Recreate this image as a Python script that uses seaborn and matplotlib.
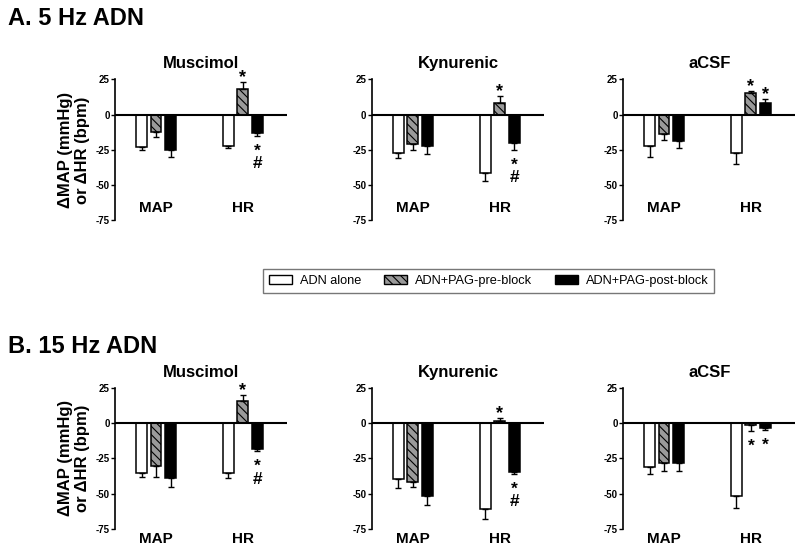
import pandas as pd
import numpy as np
import matplotlib
matplotlib.use('Agg')
import matplotlib.pyplot as plt
import seaborn as sns
from matplotlib.patches import Patch

conditions = ['ADN alone', 'ADN+PAG-pre-block', 'ADN+PAG-post-block']
drugs = ['Muscimol', 'Kynurenic', 'aCSF']
params = ['MAP', 'HR']

# mean change, one row per drug, columns = conditions
hz5_map = [[-23, -12, -25], [-27, -21, -22], [-22, -14, -19]]
hz5_map_sem = [[2, 4, 5], [4, 4, 6], [8, 4, 5]]
hz5_hr = [[-22, 18, -13], [-41.5, 8.5, -20], [-27, 15.5, 8.5]]
hz5_hr_sem = [[1.5, 5, 2], [5.5, 4.5, 5], [8, 1.5, 2.5]]

hz15_map = [[-35, -30.5, -39], [-39.5, -42, -52], [-31, -28.5, -28]]
hz15_map_sem = [[3, 8, 6], [6.5, 3, 6], [5, 5.5, 6]]
hz15_hr = [[-35, 15.5, -18], [-61, 1.5, -34.5], [-52, -1.5, -3.5]]
hz15_hr_sem = [[4, 4.5, 2], [7, 2.5, 1.5], [8, 4, 1.5]]

# significance marks: (drug, param, condition index, marks)
sig_5hz = [('Muscimol', 'HR', 1, '*'), ('Muscimol', 'HR', 2, '*\n#'),
           ('Kynurenic', 'HR', 1, '*'), ('Kynurenic', 'HR', 2, '*\n#'),
           ('aCSF', 'HR', 1, '*'), ('aCSF', 'HR', 2, '*')]
sig_15hz = [('Muscimol', 'HR', 1, '*'), ('Muscimol', 'HR', 2, '*\n#'),
            ('Kynurenic', 'HR', 1, '*'), ('Kynurenic', 'HR', 2, '*\n#'),
            ('aCSF', 'HR', 1, '*'), ('aCSF', 'HR', 2, '*')]

palette = ['white', '#9a9a9a', 'black']
HATCH = '\\\\\\\\'
FONT = ['Liberation Sans', 'DejaVu Sans']


def make_df(map_vals, map_sem, hr_vals, hr_sem):
    rows = []
    for d, drug in enumerate(drugs):
        for c, cond in enumerate(conditions):
            rows.append([drug, 'MAP', cond, map_vals[d][c], map_sem[d][c]])
            rows.append([drug, 'HR', cond, hr_vals[d][c], hr_sem[d][c]])
    return pd.DataFrame(rows, columns=['drug', 'param', 'cond', 'value', 'sem'])


sns.set_style('white')
plt.rcParams['font.family'] = FONT
plt.rcParams['hatch.linewidth'] = 0.8
plt.rcParams['text.color'] = 'black'
plt.rcParams['axes.labelcolor'] = 'black'
plt.rcParams['ytick.color'] = 'black'

fig = plt.figure(figsize=(8, 5.52), dpi=100)

rows = [(make_df(hz5_map, hz5_map_sem, hz5_hr, hz5_hr_sem), sig_5hz, 0.601, 'A. 5 Hz ADN', 0.967, 0.09),
        (make_df(hz15_map, hz15_map_sem, hz15_hr, hz15_hr_sem), sig_15hz, 0.042, 'B. 15 Hz ADN', 0.372, -0.075)]
lefts = [0.144, 0.465, 0.779]

for df, sigs, bottom, label, label_y, grp_y in rows:
    fig.text(0.01, label_y, label, fontsize=17, fontweight='bold', va='center')
    for i, drug in enumerate(drugs):
        ax = fig.add_axes([lefts[i], bottom, 0.215, 0.255])
        sub = df[df['drug'] == drug]
        sns.barplot(data=sub, x='param', y='value', hue='cond', order=params,
                    hue_order=conditions, palette=palette, width=0.5, gap=0.25,
                    edgecolor='black', linewidth=1.1, errorbar=None, legend=False,
                    ax=ax)
        bars = list(ax.containers)
        for bar in bars[1]:
            bar.set_hatch(HATCH)

        # one-sided error bars away from zero
        for c, cont in enumerate(bars):
            for p, bar in enumerate(cont):
                row = sub[(sub['param'] == params[p]) & (sub['cond'] == conditions[c])].iloc[0]
                xc = bar.get_x() + bar.get_width() / 2
                v, s = row['value'], row['sem']
                yerr = [[0], [s]] if v > 0 else [[s], [0]]
                ax.errorbar(xc, v, yerr=yerr, color='black', lw=1, capsize=2.5,
                            capthick=1, zorder=1)

        for d, prm, c, marks in sigs:
            if d != drug:
                continue
            p = params.index(prm)
            bar = bars[c][p]
            row = sub[(sub['param'] == prm) & (sub['cond'] == conditions[c])].iloc[0]
            xc = bar.get_x() + bar.get_width() / 2
            v, s = row['value'], row['sem']
            end = v + s if v > 0 else v - s
            if v > 0:
                ax.annotate(marks, (xc, end), xytext=(0, 0), textcoords='offset points',
                            ha='center', va='baseline', fontsize=13, fontweight='bold')
            else:
                ax.annotate(marks, (xc, end), xytext=(0, -5.5), textcoords='offset points',
                            ha='center', va='top', fontsize=12.5, fontweight='bold',
                            linespacing=0.8)

        ax.axhline(0, color='black', lw=1.5, zorder=3)
        ax.set_ylim(-75, 25)
        ax.set_xlim(-0.47, 1.51)
        ax.set_yticks([25, 0, -25, -50, -75])
        ax.set_yticklabels(['25', '0', '-25', '-50', '-75'], fontsize=7, fontweight='bold')
        ax.tick_params(axis='y', left=True, length=3, width=1, pad=1)
        ax.set_xticks([])
        ax.set_xlabel(None)
        ax.set_ylabel(None)
        for sp in ['top', 'right', 'bottom']:
            ax.spines[sp].set_visible(False)
        ax.spines['left'].set_linewidth(1.2)
        ax.spines['left'].set_color('black')
        for p, prm in enumerate(params):
            ax.text(p, grp_y, prm, transform=ax.get_xaxis_transform(), ha='center',
                    va='center', fontsize=11, fontweight='bold')
        ax.set_title(drug, fontsize=12, fontweight='bold', pad=8)
        if i == 0:
            ax.set_ylabel('\u0394MAP (mmHg)\nor \u0394HR (bpm)', fontsize=12,
                          fontweight='bold', labelpad=4)

handles = [Patch(facecolor=palette[k], edgecolor='black', linewidth=1,
                 hatch=HATCH if k == 1 else None) for k in range(3)]
fig.legend(handles, conditions, loc='center', bbox_to_anchor=(0.611, 0.491), ncol=3,
           fontsize=9.2, frameon=True, fancybox=False, edgecolor='#555555',
           handlelength=1.8, handleheight=0.75, handletextpad=0.6, columnspacing=1.8,
           borderpad=0.45)

plt.savefig('out.png', dpi=100)
